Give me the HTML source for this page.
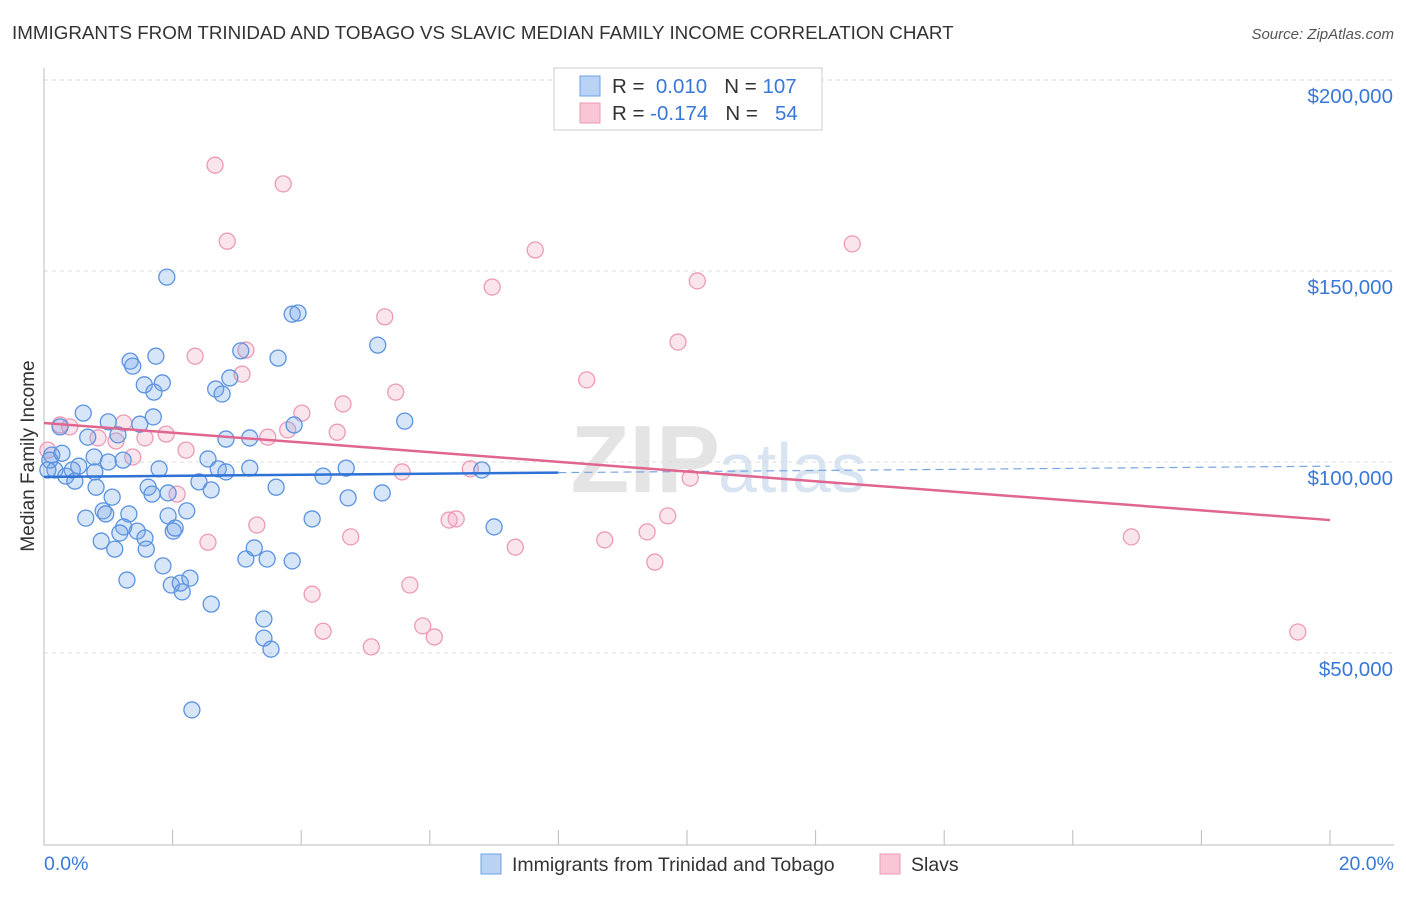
<!DOCTYPE html>
<html><head><meta charset="utf-8"><style>
body{margin:0;background:#fff;font-family:"Liberation Sans",sans-serif;}
svg text{font-family:"Liberation Sans",sans-serif;}
</style></head><body>
<svg id="chart" width="1406" height="892">
<text x="12" y="39" font-size="18.8" fill="#333">IMMIGRANTS FROM TRINIDAD AND TOBAGO VS SLAVIC MEDIAN FAMILY INCOME CORRELATION CHART</text>
<text x="1394" y="39" font-size="15" fill="#555" text-anchor="end" font-style="italic">Source: ZipAtlas.com</text>
<text x="720" y="492" font-size="96" fill="#e4e4e4" text-anchor="end" font-family="Liberation Serif" font-weight="bold">ZIP</text>
<text x="718" y="492" font-size="70" fill="#d8e4f2">atlas</text>
<g id="grid"></g><g id="axes"></g><g id="marks"></g>
<text transform="translate(34,456) rotate(-90)" font-size="19" fill="#333" text-anchor="middle">Median Family Income</text>
<g>
<rect x="554" y="68" width="268" height="62" fill="#fff" stroke="#ccc"/>
<rect x="580" y="76" width="20" height="20" fill="#b9d3f5" stroke="#6ba0e6"/>
<rect x="580" y="103" width="20" height="20" fill="#f9c6d6" stroke="#ec9ab6"/>
<text x="612" y="93" font-size="20.5" fill="#333">R = <tspan fill="#3a78d8">&#160;0.010</tspan>&#160;&#160;&#160;N = <tspan fill="#3a78d8">107</tspan></text>
<text x="612" y="120" font-size="20.5" fill="#333">R = <tspan fill="#3a78d8">-0.174</tspan>&#160;&#160;&#160;N = <tspan fill="#3a78d8">&#160;&#160;54</tspan></text>
</g>
<g>
<rect x="481" y="854" width="20" height="20" fill="#b9d3f5" stroke="#6ba0e6"/>
<text x="512" y="871" font-size="19.5" fill="#333">Immigrants from Trinidad and Tobago</text>
<rect x="880" y="854" width="20" height="20" fill="#f9c6d6" stroke="#ec9ab6"/>
<text x="911" y="871" font-size="19.5" fill="#333">Slavs</text>
</g>
</svg>
<script>
const blueX=[1.91,1.34,1.38,1.74,1.56,1.84,1.71,2.67,2.77,2.89,3.06,3.64,3.86,3.95,5.19,5.61,3.89,0.61,1.70,1.00,1.49,0.25,0.68,1.15,2.83,3.20,0.12,0.28,0.54,0.78,1.00,1.23,2.55,0.44,0.17,0.34,0.48,0.79,1.79,2.71,2.83,3.20,4.70,4.34,6.81,0.81,1.62,1.68,1.93,2.60,2.41,3.61,1.06,4.73,5.26,0.65,0.92,0.96,1.32,2.22,1.93,4.17,7.00,1.24,1.45,1.18,2.01,2.04,1.57,0.89,1.59,1.10,1.85,3.14,3.27,3.47,3.86,1.29,1.98,2.12,2.27,2.15,2.60,3.42,3.42,3.53,2.30,0.09,0.06];
const blueY=[148.4,126.4,125.1,127.7,120.2,120.7,118.3,119.1,117.8,122.0,129.1,127.2,138.7,139.0,130.6,110.7,109.7,112.8,111.8,110.5,109.9,109.2,106.5,107.1,106.0,106.3,101.8,102.3,98.9,101.3,100.0,100.5,100.8,97.9,97.9,96.3,95.0,97.4,98.2,98.2,97.4,98.4,98.4,96.3,97.9,93.4,93.4,91.6,91.9,92.7,94.8,93.4,90.8,90.6,91.9,85.3,87.2,86.4,86.4,87.2,85.9,85.1,83.0,83.0,81.9,81.4,81.9,82.7,80.1,79.3,77.2,77.2,72.8,74.6,77.5,74.6,74.1,69.1,67.8,68.3,69.6,66.0,62.8,58.9,53.9,51.0,35.1,100.5,97.9];
const pinkX=[2.66,3.72,2.85,7.64,12.57,6.97,10.16,5.30,9.86,2.35,3.14,3.08,8.44,5.47,4.65,4.01,1.24,0.25,0.40,1.90,1.57,0.84,1.12,3.48,3.79,4.56,2.21,0.06,1.38,6.63,5.57,10.05,2.07,9.70,3.31,6.30,6.41,2.55,4.77,7.33,8.72,9.38,16.91,9.50,5.69,4.17,4.34,5.89,6.07,5.09,19.50];
const pinkY=[177.7,172.8,157.8,155.5,157.1,145.8,147.4,138.0,131.4,127.7,129.3,123.0,121.5,118.3,115.2,112.8,110.2,109.7,109.2,107.3,106.3,106.3,105.5,106.5,108.4,107.8,103.1,103.1,101.3,98.2,97.4,95.8,91.6,85.9,83.5,84.8,85.1,79.0,80.4,77.7,79.6,81.7,80.4,73.8,67.8,65.4,55.7,57.1,54.2,51.6,55.5];
const yTicks=[50,100,150,200];
const yTickLabels=["$50,000","$100,000","$150,000","$200,000"];
const xTickLabels=["0.0%","20.0%"];
const blueTrend=[96.1,98.9];
const pinkTrend=[110.2,84.8];
const blueSolidEnd=8.0;

const NS="http://www.w3.org/2000/svg";
const X=p=>44+p/20*1286;
const Y=v=>80+(200-v)/50*191;
function mk(tag,at,parent){const e=document.createElementNS(NS,tag);for(const k in at)e.setAttribute(k,at[k]);document.getElementById(parent).appendChild(e);return e;}
yTicks.forEach((t,i)=>{
  const l=mk('line',{x1:44,x2:1394,y1:Y(t),y2:Y(t),stroke:'#ddd','stroke-dasharray':'4,4'},'grid');
  
  
  const tx=mk('text',{x:1393,y:Y(t)+23,'font-size':20.5,fill:'#3a78d8','text-anchor':'end'},'axes');
  tx.textContent=yTickLabels[i];
  
  
});
let a=mk('line',{x1:44,x2:44,y1:68,y2:845,stroke:'#bbb'},'axes');


a=mk('line',{x1:44,x2:1394,y1:845,y2:845,stroke:'#bbb'},'axes');


for(let i=1;i<=10;i++){
  const t=mk('line',{x1:X(i*2),x2:X(i*2),y1:830,y2:845,stroke:'#bbb'},'axes');
  
  
}
let xl=mk('text',{x:44,y:870,'font-size':19.5,fill:'#3a78d8'},'axes');xl.textContent=xTickLabels[0];


xl=mk('text',{x:1394,y:870,'font-size':19.5,fill:'#3a78d8','text-anchor':'end'},'axes');xl.textContent=xTickLabels[1];



pinkX.forEach((p,i)=>{
  const c=mk('circle',{cx:X(p),cy:Y(pinkY[i]),r:8,fill:'rgba(242,160,190,0.28)',stroke:'#ec9ab6','stroke-width':1.3},'marks');
  
  
});
blueX.forEach((p,i)=>{
  const c=mk('circle',{cx:X(p),cy:Y(blueY[i]),r:8,fill:'rgba(110,160,230,0.28)',stroke:'#5b93e0','stroke-width':1.3},'marks');
  
  
});
const bAt=p=>blueTrend[0]+(blueTrend[1]-blueTrend[0])*p/20;
let ln=mk('line',{x1:X(0),y1:Y(blueTrend[0]),x2:X(blueSolidEnd),y2:Y(bAt(blueSolidEnd)),stroke:'#2f72d6','stroke-width':2.5},'marks');


ln=mk('line',{x1:X(blueSolidEnd),y1:Y(bAt(blueSolidEnd)),x2:X(20),y2:Y(blueTrend[1]),stroke:'#7aa6e0','stroke-width':1.2,'stroke-dasharray':'8,5'},'marks');


ln=mk('line',{x1:X(0),y1:Y(pinkTrend[0]),x2:X(20),y2:Y(pinkTrend[1]),stroke:'#e0668f','stroke-width':2.5},'marks');


</script>
</body></html>
